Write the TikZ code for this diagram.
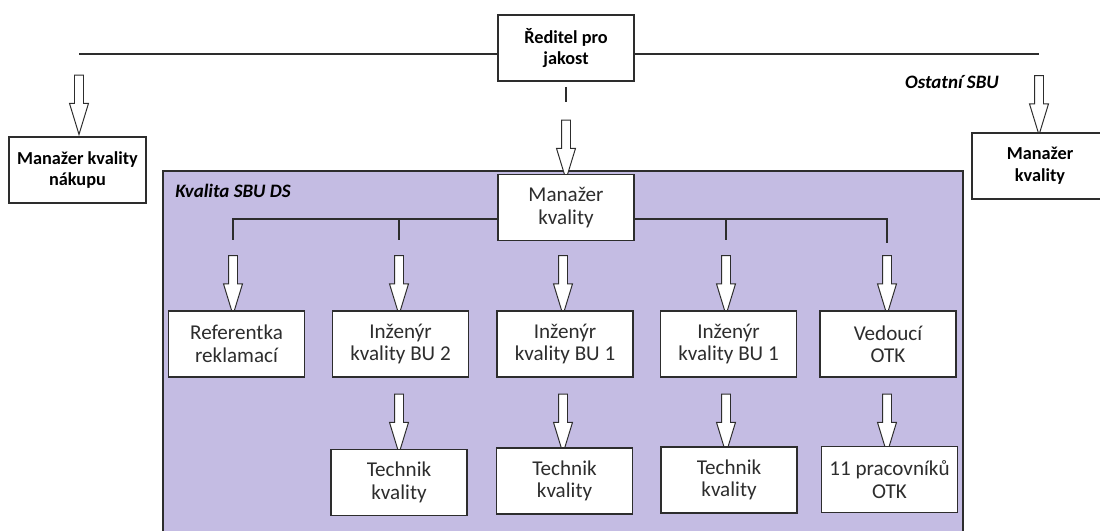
\documentclass[tikz,border=0pt]{standalone}
\usepackage{fontspec}
\setmainfont{Carlito}
\usetikzlibrary{shapes.arrows}
\definecolor{lavender}{RGB}{196,188,227}
\definecolor{edge}{RGB}{45,45,45}
\tikzset{
  box/.style={draw=edge, fill=white, line width=0.9pt, minimum width=3.4cm, minimum height=1.65cm,
    align=center, inner sep=0pt, text=edge, font=\fontsize{15}{16}\selectfont},
  headbox/.style={box, text=black, font=\bfseries\fontsize{13}{15.6}\selectfont},
  downarrow/.style={single arrow, draw=edge, fill=white, line width=0.7pt, shape border rotate=270,
    inner sep=0.1cm, minimum width=0.45cm, single arrow head extend=0.125cm,
    single arrow tip angle=34, minimum height=1.48cm},
  link/.style={draw=edge, line width=0.9pt},
  caption/.style={font=\bfseries\itshape\fontsize{13.5}{15.6}\selectfont, inner sep=0pt},
}
\begin{document}
\begin{tikzpicture}[x=0.025cm, y=-0.025cm]
\useasboundingbox (0,0) rectangle (1100,531);
% purple area
\fill[lavender] (163,171) rectangle (963,531);
\draw[link] (163,531) -- (163,171) -- (963,171) -- (963,531);
\node[caption, anchor=west] (sbuds) at (175,191) {Kvalita SBU DS};
\node[caption] (ostatni) at (952,82) {Ostatní SBU};
% top level
\coordinate (tl) at (79,54);
\coordinate (tr) at (1039,54);
\draw[link] (tl) -- (tr);
\node[headbox] (reditel) at (566,48) {Ředitel pro\\jakost};
\coordinate (rs) at (566,87);
\coordinate (re) at (566,102);
\draw[link] (rs) -- (re);
\node[downarrow] (a0) at (566,142.5) {};
\node[downarrow] (al) at (79,97.5) {};
\node[downarrow] (ar) at (1039,98) {};
\node[headbox, minimum width=3.425cm] (nakup) at (77.5,170) {Manažer kvality\\nákupu};
\node[headbox] (ostmgr) at (1040,166) {Manažer\\kvality};
% SBU DS
\coordinate (b1) at (233,219);
\coordinate (b1e) at (233,240);
\coordinate (b2) at (399,219);
\coordinate (b2e) at (399,240);
\coordinate (b4) at (726,219);
\coordinate (b4e) at (726,240);
\coordinate (b5) at (887,219);
\coordinate (b5e) at (887,243);
\draw[link] (b1e) -- (b1) -- (b5) -- (b5e);
\draw[link] (b2) -- (b2e);
\draw[link] (b4) -- (b4e);
\node[box] (mgr) at (566,207.5) {Manažer\\kvality};
\foreach \x/\n in {233/1, 399/2, 563/3, 726/4, 887/5}
  \node[downarrow] (u\n) at (\x,278) {};
\node[box] (ref) at (236.5,344) {Referentka\\reklamací};
\node[box] (ing2) at (400.5,344) {Inženýr\\kvality BU 2};
\node[box] (ing1) at (565,344) {Inženýr\\kvality BU 1};
\node[box] (ing1b) at (728.5,344) {Inženýr\\kvality BU 1};
\node[box] (otk) at (888,344) {Vedoucí\\OTK};
\foreach \x/\n in {399/2, 563/3, 726/4, 887/5}
  \node[downarrow] (d\n) at (\x,416.5) {};
\node[box] (tech2) at (399,482.5) {Technik\\kvality};
\node[box] (tech3) at (564.5,481) {Technik\\kvality};
\node[box] (tech4) at (729,480) {Technik\\kvality};
\node[box] (prac) at (889.5,479.5) {11 pracovníků\\OTK};
\end{tikzpicture}
\end{document}
